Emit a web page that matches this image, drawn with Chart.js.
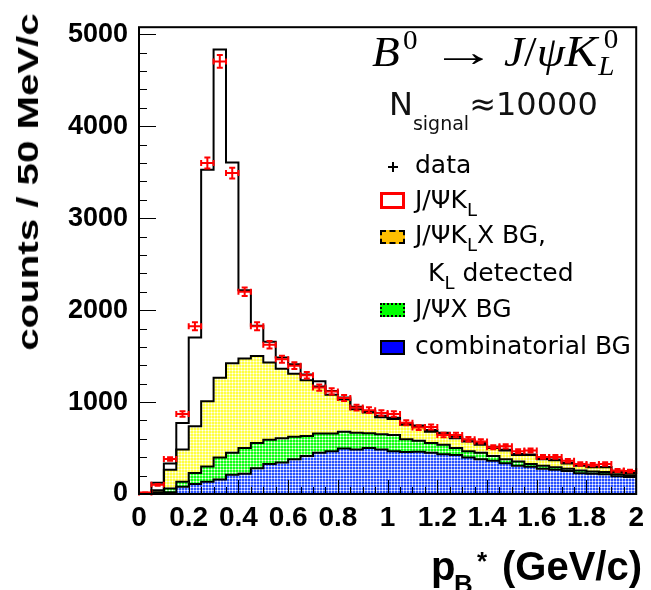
<!DOCTYPE html>
<html><head><meta charset="utf-8">
<script src="https://cdn.jsdelivr.net/npm/chart.js@4/dist/chart.umd.min.js"></script>
<style>
html,body{margin:0;padding:0;background:#fff;}
#wrap{position:relative;width:651px;height:590px;overflow:hidden;background:#fff;}
#c{position:absolute;left:0;top:0;}
.t{position:absolute;white-space:nowrap;color:#000;line-height:1;}
.mk{position:absolute;box-sizing:border-box;}
#formula{position:absolute;left:372px;top:30px;white-space:nowrap;font:42px "Liberation Serif","DejaVu Serif",serif;line-height:42px;color:#000;transform:scaleX(1.08);transform-origin:left center;}
#formula .s{font-size:27px;line-height:27px;}
</style></head><body>
<div id="wrap"><canvas id="c" width="651" height="590"></canvas>
<div id="formula"><i>B</i><span class="s" style="position:relative;top:-17px;margin-left:3px">0</span><span style="display:inline-block;transform:scaleX(1.45);transform-origin:left center;margin:0 26px 0 12px">→</span><i>J</i>/<i>ψ</i><i style="font-size:45px">K</i><span style="display:inline-block;position:relative;width:20px;height:1px"><span class="s" style="position:absolute;left:6px;top:-39px">0</span><span class="s" style="position:absolute;left:1px;top:-12px;font-style:italic">L</span></span></div>
</div>
<script>
// ---- data (counts per 50 MeV/c bin) ----
const binLow = [0,0.05,0.1,0.15,0.2,0.25,0.3,0.35,0.4,0.45,0.5,0.55,0.6,0.65,0.7,0.75,0.8,0.85,0.9,0.95,
                1.0,1.05,1.1,1.15,1.2,1.25,1.3,1.35,1.4,1.45,1.5,1.55,1.6,1.65,1.7,1.75,1.8,1.85,1.9,1.95];
const binWidth = 0.05;
const combinatorialBG = [0,5,20,80,108,133,158,210,221,280,326,343,379,414,449,466,494,484,501,484,
                         466,456,459,449,431,424,396,379,361,335,308,297,274,263,249,227,221,214,193,185];
const jpsiXBG = [2,15,40,53,120,165,238,239,280,275,264,264,245,216,210,193,183,181,159,166,
                 176,140,120,105,106,77,70,70,53,44,46,29,34,28,25,29,24,24,21,18];
const jpsiKLXBG = [1,20,203,351,509,712,867,972,973,946,841,754,684,608,509,421,350,257,227,185,
                   175,158,150,123,112,106,106,88,87,94,70,98,71,77,59,52,46,53,24,24];
const jpsiKLSignal = [2,82,70,288,964,2516,3572,2185,741,329,224,124,102,62,57,40,23,28,13,15,
                      13,16,16,18,16,18,18,18,14,7,11,6,11,7,7,7,7,4,7,5];
const dataCounts = [15,100,380,870,1824,3600,4705,3490,2200,1824,1624,1466,1396,1291,1158,1116,1045,940,912,880,
                    870,775,722,729,642,642,596,572,508,519,466,473,403,403,361,326,319,326,256,249];
const xTickValues = [0,0.2,0.4,0.6,0.8,1,1.2,1.4,1.6,1.8,2];
const yTickValues = [0,1000,2000,3000,4000,5000];
const xMax = 2, yMax = 5077;

// cumulative stack tops
const topBlue = combinatorialBG.slice();
const topGreen = topBlue.map((v,i)=>v + jpsiXBG[i]);
const topYellow = topGreen.map((v,i)=>v + jpsiKLXBG[i]);
const topTotal = topYellow.map((v,i)=>v + jpsiKLSignal[i]);
const stepPts = arr => binLow.map((x,i)=>({x:x, y:arr[i]})).concat([{x:xMax, y:arr[arr.length-1]}]);

const ctx = document.getElementById('c').getContext('2d');
function pattern(color, w){
  const c=document.createElement('canvas'); c.width=3; c.height=3;
  const g=c.getContext('2d');
  g.fillStyle=color; g.fillRect(0,0,3,3);
  g.fillStyle='rgba(255,255,255,1)'; g.fillRect(1,1,1,1);
  g.fillStyle='rgba(255,255,255,'+w+')';
  g.fillRect(0,1,1,1); g.fillRect(2,1,1,1); g.fillRect(1,0,1,1); g.fillRect(1,2,1,1);
  return ctx.createPattern(c,'repeat');
}

const decor = {
  id:'decor',
  afterDatasetsDraw(chart){
    const {ctx:g, chartArea:a, scales:{x,y}} = chart;
    g.save();
    // error bars of data
    g.strokeStyle='#ff0000'; g.lineWidth=2;
    dataCounts.forEach((v,i)=>{
      const xl=x.getPixelForValue(binLow[i]), xr=x.getPixelForValue(binLow[i]+binWidth);
      const xc=x.getPixelForValue(binLow[i]+binWidth/2);
      const e=Math.sqrt(v);
      const yc=y.getPixelForValue(v), yt=y.getPixelForValue(v+e), yb=y.getPixelForValue(Math.max(v-e,0));
      g.beginPath();
      g.moveTo(xl,yc); g.lineTo(xr,yc);
      g.moveTo(xc,yt-0.5); g.lineTo(xc,yb+0.5);
      g.moveTo(xl,yc-3); g.lineTo(xl,yc+3);
      g.moveTo(xr,yc-3); g.lineTo(xr,yc+3);
      g.moveTo(xc-3,yt); g.lineTo(xc+3,yt);
      g.moveTo(xc-3,yb); g.lineTo(xc+3,yb);
      g.stroke();
    });
    // ticks (inside)
    g.strokeStyle='#000'; g.lineWidth=1;
    g.beginPath();
    for(let v=0; v<=yMax; v+=200){
      const py=Math.round(y.getPixelForValue(v))+0.5;
      const len = (v%1000===0)?17:8;
      g.moveTo(a.left,py); g.lineTo(a.left+len,py);
    }
    for(let k=0; k<=40; k++){
      const v=k*0.05;
      const px=Math.round(x.getPixelForValue(v))+0.5;
      const len = (k%4===0)?14:7;
      g.moveTo(px,a.bottom); g.lineTo(px,a.bottom-len);
    }
    g.stroke();
    // frame
    g.lineWidth=2;
    g.strokeRect(a.left,a.top,a.right-a.left,a.bottom-a.top);
    g.restore();
  }
};

const lineDs = (label,arr,fill,bg)=>({
  label:label, data:stepPts(arr), stepped:'before', fill:fill,
  backgroundColor:bg, borderColor:'#000', borderWidth:2, pointRadius:0, tension:0
});

new Chart(ctx,{
  type:'line',
  data:{datasets:[
    {label:'data', data:binLow.map((x,i)=>({x:x+binWidth/2, y:dataCounts[i]})), showLine:false,
     pointRadius:0, borderColor:'#ff0000', backgroundColor:'#ff0000'},
    lineDs('combinatorial BG', topBlue, 'origin', pattern('#2850ff',0.6)),
    lineDs('J/ΨX BG', topGreen, 1, pattern('#10ff10',0.5)),
    lineDs('J/ΨK_L X BG', topYellow, 2, pattern('#ffff40',0.5)),
    lineDs('J/ΨK_L', topTotal, false, 'rgba(0,0,0,0)')
  ]},
  options:{
    responsive:false, animation:false, devicePixelRatio:1,
    layout:{padding:{top:12,right:10,left:0,bottom:0}},
    plugins:{legend:{display:false}, tooltip:{enabled:false}, filler:{drawTime:'beforeDatasetsDraw'}},
    scales:{
      x:{type:'linear', min:0, max:xMax,
         grid:{display:false, drawTicks:false}, border:{display:false},
         afterBuildTicks:s=>{s.ticks=xTickValues.map(v=>({value:v}));},
         afterFit:s=>{s.height=96;},
         ticks:{padding:7, maxRotation:0, autoSkip:false, color:'#000',
                font:{family:'"Liberation Sans", Arial, sans-serif', size:28, weight:'bold'},
                callback:v=>String(Math.round(v*10)/10)}},
      y:{type:'linear', min:0, max:yMax,
         grid:{display:false, drawTicks:false}, border:{display:false},
         afterBuildTicks:s=>{s.ticks=yTickValues.map(v=>({value:v}));},
         afterFit:s=>{s.width=139;},
         ticks:{padding:11, color:'#000',
                font:{family:'"Liberation Sans", Arial, sans-serif', size:27, weight:'bold'},
                callback:v=>String(v)}}
    }
  },
  plugins:[decor]
});

// ---- text overlays ----
const wrap=document.getElementById('wrap');
function txt(html, font, size, left, baseline, extra){
  const d=document.createElement('div'); d.className='t';
  d.innerHTML=html;
  d.style.font=font.replace('SZ', size+'px');
  d.style.lineHeight=size+'px';
  d.style.left=left+'px';
  d.style.top=(baseline-0.845*size)+'px';
  if(extra) Object.assign(d.style, extra);
  wrap.appendChild(d); return d;
}
const SANS='SZ "DejaVu Sans", sans-serif';
const BOLD='bold SZ "Liberation Sans", Arial, sans-serif';

// N_signal
txt('N<span style="font-size:19px;line-height:0;vertical-align:-15px">signal</span>≈10000', SANS, 32, 389, 115, {color:'#111'});

// legend markers
function box(l,t,w,h,css){const d=document.createElement('div');d.className='mk';
  d.style.left=l+'px';d.style.top=t+'px';d.style.width=w+'px';d.style.height=h+'px';
  Object.assign(d.style,css);wrap.appendChild(d);}
box(388,166,10,2,{background:'#000'});
box(392,162,2,10,{background:'#000'});
box(380,192,25,17,{border:'3px solid #ff0000', background:'#fff'});
box(380,230,25,14,{border:'2px dashed #000', background:'#ffbf00'});
box(380,303,25,14,{border:'2px dotted #000', background:'#00ff00'});
box(380,340,25,15,{border:'2px solid #000', background:'#0000ff'});

const SUBL = s => '<span style="font-size:18px;line-height:0;vertical-align:-8px">'+s+'</span>';
txt('data', SANS, 25, 415, 173);
txt('J/ΨK'+SUBL('L'), SANS, 25, 415, 208);
txt('J/ΨK'+SUBL('L')+'X BG,', SANS, 25, 415, 243);
txt('K'+SUBL('L')+' detected', SANS, 25, 428, 281);
txt('J/ΨX BG', SANS, 25, 415, 317);
txt('combinatorial BG', SANS, 25, 415, 354);

// axis titles
txt('p', BOLD, 40, 431, 580);
txt('B', BOLD, 26, 454, 593);
txt('*', BOLD, 26, 477, 570);
txt('(GeV/c)', BOLD, 40, 502, 580);

const yt=document.createElement('div'); yt.className='t';
yt.textContent='counts / 50 MeV/c';
yt.style.font='bold 30px "Liberation Sans", Arial, sans-serif';
yt.style.lineHeight='30px';
yt.style.left='28px'; yt.style.top='182px';
yt.style.transform='translate(-50%,-50%) rotate(-90deg) scaleX(1.34)';
wrap.appendChild(yt);
</script>
</body></html>
